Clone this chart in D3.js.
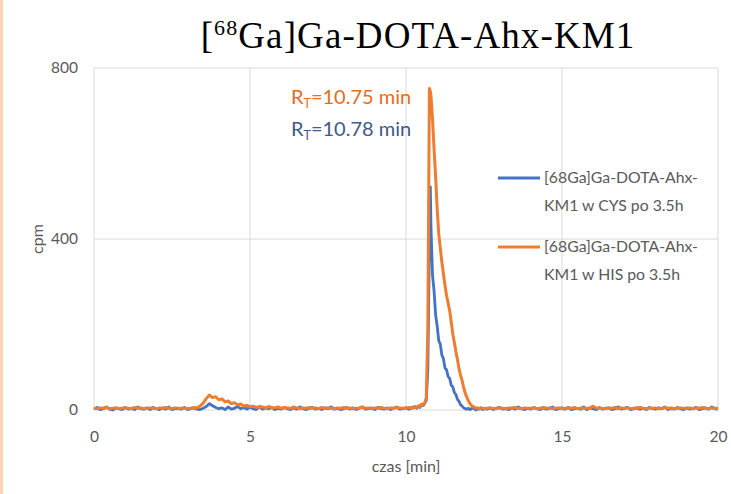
<!DOCTYPE html>
<html>
<head>
<meta charset="utf-8">
<script src="https://cdn.jsdelivr.net/npm/d3@7"></script>
<style>
  html, body { margin: 0; padding: 0; background: #ffffff; }
  svg { display: block; }
</style>
</head>
<body>
<svg id="chart" width="731" height="494"></svg>
<script>
// Retention time axis (minutes), shared by both radio-HPLC traces
const timeMin = [
  0.0,0.1,0.2,0.3,0.4,0.5,0.6,0.7,0.8,0.9,
  1.0,1.1,1.2,1.3,1.4,1.5,1.6,1.7,1.8,1.9,
  2.0,2.1,2.2,2.3,2.4,2.5,2.6,2.7,2.8,2.9,
  3.0,3.1,3.2,3.3,3.4,3.5,3.6,3.7,3.8,3.9,
  4.0,4.1,4.2,4.3,4.4,4.5,4.6,4.7,4.8,4.9,
  5.0,5.1,5.2,5.3,5.4,5.5,5.6,5.7,5.8,5.9,
  6.0,6.1,6.2,6.3,6.4,6.5,6.6,6.7,6.8,6.9,
  7.0,7.1,7.2,7.3,7.4,7.5,7.6,7.7,7.8,7.9,
  8.0,8.1,8.2,8.3,8.4,8.5,8.6,8.7,8.8,8.9,
  9.0,9.1,9.2,9.3,9.4,9.5,9.6,9.7,9.8,9.9,
  10.0,10.1,10.2,10.3,
  10.35,10.4,10.45,10.5,10.55,10.6,10.65,10.7,10.75,10.78,10.8,10.85,10.9,10.95,
  11.0,11.05,11.1,11.15,11.2,11.25,11.3,11.35,11.4,11.45,
  11.5,11.55,11.6,11.65,11.7,11.75,11.8,11.85,11.9,11.95,
  12.0,12.05,12.1,12.15,12.2,12.25,12.3,12.35,12.4,12.45,12.5,
  12.6,12.7,12.8,12.9,
  13.0,13.1,13.2,13.3,13.4,13.5,13.6,13.7,13.8,13.9,
  14.0,14.1,14.2,14.3,14.4,14.5,14.6,14.7,14.8,14.9,
  15.0,15.1,15.2,15.3,15.4,15.5,15.6,15.7,15.8,15.9,
  16.0,16.1,16.2,16.3,16.4,16.5,16.6,16.7,16.8,16.9,
  17.0,17.1,17.2,17.3,17.4,17.5,17.6,17.7,17.8,17.9,
  18.0,18.1,18.2,18.3,18.4,18.5,18.6,18.7,18.8,18.9,
  19.0,19.1,19.2,19.3,19.4,19.5,19.6,19.7,19.8,19.9,
  20.0
];

// Counts per minute, sample incubated in cysteine for 3.5 h
const cpmCys = [
  2,6,1,3,7,2,0,5,3,1,
  6,2,4,1,7,3,2,5,1,6,
  3,1,5,2,7,1,3,4,2,6,
  1,3,5,2,1,4,8,15,10,6,
  3,5,1,7,2,4,8,3,6,2,
  7,3,1,8,2,5,3,6,1,4,
  2,6,3,1,5,2,7,3,1,4,
  6,2,4,1,5,3,7,2,4,1,
  3,6,2,5,1,4,7,2,3,5,
  1,6,3,2,5,1,4,7,2,3,
  5,2,6,8,
  4,9,6,13,10,16,22,95,390,522,430,315,278,222,
  196,162,154,128,120,98,94,78,74,58,
  54,41,36,25,20,12,9,5,3,2,
  4,1,3,6,2,0,4,2,5,1,3,
  2,5,1,4,
  6,2,3,1,5,2,7,3,1,4,
  2,6,3,1,5,2,4,7,1,3,
  5,2,6,1,3,4,2,7,1,5,
  3,1,6,2,4,5,1,3,7,2,
  4,6,1,3,5,2,4,1,6,3,
  2,5,3,7,1,4,2,6,3,1,
  5,2,4,6,1,3,5,2,7,3,
  2
];

// Counts per minute, sample incubated in histidine for 3.5 h
const cpmHis = [
  4,3,5,4,6,3,4,5,3,4,
  5,4,3,6,4,5,3,4,5,4,
  3,5,4,6,4,3,5,4,4,5,
  3,4,6,5,9,16,27,35,29,31,
  24,26,19,21,15,17,12,14,9,11,
  8,9,6,8,7,5,8,6,5,7,
  4,6,5,4,7,5,3,5,4,6,
  4,5,3,6,4,5,4,3,5,4,
  6,4,5,3,4,5,7,4,5,3,
  5,4,6,4,3,5,4,6,5,4,
  5,6,4,7,
  6,10,8,14,11,17,28,190,752,745,735,680,610,545,
  470,412,378,346,318,292,268,250,232,206,
  178,158,136,118,96,81,68,52,39,30,
  21,15,10,8,6,4,5,3,5,4,3,
  4,5,3,4,
  5,4,3,5,4,6,4,3,5,4,
  4,5,3,4,6,4,5,3,4,5,
  3,4,5,4,6,3,5,4,4,5,
  9,4,5,3,4,5,4,6,3,5,
  4,5,3,4,5,6,4,3,5,4,
  5,3,4,6,4,5,3,4,5,4,
  4,5,3,5,4,6,4,3,5,4,
  4
];

const xTicks = [0, 5, 10, 15, 20];
const yTicks = [0, 400, 800];

const seriesNames = [
  ["[68Ga]Ga-DOTA-Ahx-", "KM1 w CYS po 3.5h"],
  ["[68Ga]Ga-DOTA-Ahx-", "KM1 w HIS po 3.5h"]
];
const retentionLabels = ["10.75 min", "10.78 min"];

const blue = "#4472C4";
const orange = "#ED7D31";
const labelGrey = "#595959";
const uiFont = "Lato, 'Open Sans', sans-serif";

const svg = d3.select("#chart");

// thin peach strip along the left page edge
svg.append("rect").attr("x", 0).attr("y", 0).attr("width", 3).attr("height", 494)
  .attr("fill", "#FDD3B8");

const x = d3.scaleLinear().domain([0, 20]).range([94, 718]);
const y = d3.scaleLinear().domain([0, 800]).range([410, 68]);

// gridlines
const grid = svg.append("g");
grid.selectAll("line.v").data(xTicks).join("line")
  .attr("x1", d => x(d)).attr("x2", d => x(d))
  .attr("y1", y(0)).attr("y2", y(800))
  .attr("stroke", "#D9D9D9").attr("stroke-width", 1);
grid.selectAll("line.h").data(yTicks).join("line")
  .attr("x1", x(0)).attr("x2", x(20))
  .attr("y1", d => y(d)).attr("y2", d => y(d))
  .attr("stroke", "#D9D9D9").attr("stroke-width", 1);

// axes (labels only; lines come from the grid)
const xAxis = svg.append("g").attr("transform", `translate(0,${y(0)})`)
  .call(d3.axisBottom(x).tickValues(xTicks).tickSize(0).tickPadding(21));
const yAxis = svg.append("g").attr("transform", `translate(${x(0)},0)`)
  .call(d3.axisLeft(y).tickValues(yTicks).tickSize(0).tickPadding(16));
[xAxis, yAxis].forEach(a => {
  a.select(".domain").remove();
  a.selectAll("text").attr("fill", labelGrey).attr("font-family", uiFont).attr("font-size", 15.5);
});

// traces
const line = d3.line().x((d, i) => x(timeMin[i])).y(d => y(d));
svg.append("path").datum(cpmCys).attr("d", line)
  .attr("fill", "none").attr("stroke", blue).attr("stroke-width", 2.8)
  .attr("stroke-linejoin", "round");
svg.append("path").datum(cpmHis).attr("d", line)
  .attr("fill", "none").attr("stroke", orange).attr("stroke-width", 3)
  .attr("stroke-linejoin", "round");

// title with superscript mass number
const title = svg.append("text").attr("x", 418).attr("y", 48).attr("text-anchor", "middle")
  .attr("font-family", "'Liberation Serif', 'DejaVu Serif', serif").attr("font-size", 37)
  .attr("letter-spacing", 1.1)
  .attr("fill", "#000");
title.append("tspan").text("[");
title.append("tspan").text("68").attr("font-size", 22).attr("dy", -13);
title.append("tspan").text("Ga]Ga-DOTA-Ahx-KM1").attr("dy", 13);

// axis titles
svg.append("text").attr("x", 406).attr("y", 472).attr("text-anchor", "middle")
  .attr("font-family", uiFont).attr("font-size", 16).attr("fill", labelGrey)
  .text("czas [min]");
svg.append("text").attr("transform", `translate(43,${y(400)}) rotate(-90)`)
  .attr("text-anchor", "middle")
  .attr("font-family", uiFont).attr("font-size", 16).attr("fill", labelGrey)
  .text("cpm");

// retention time annotations
const rtColors = ["#E46C1E", "#3F5A8A"];
const rtY = [104, 136];
retentionLabels.forEach((lab, i) => {
  const t = svg.append("text").attr("x", 291).attr("y", rtY[i])
    .attr("font-family", uiFont).attr("font-size", 20).attr("fill", rtColors[i]);
  t.append("tspan").text("R");
  t.append("tspan").text("T").attr("font-size", 12.5).attr("dy", 4);
  t.append("tspan").text("=" + lab).attr("dy", -4);
});

// legend
const legColors = [blue, orange];
const legY = [178, 247];
seriesNames.forEach((lines, i) => {
  svg.append("line").attr("x1", 498).attr("x2", 540)
    .attr("y1", legY[i]).attr("y2", legY[i])
    .attr("stroke", legColors[i]).attr("stroke-width", 3);
  lines.forEach((s, j) => {
    svg.append("text").attr("x", 544).attr("y", legY[i] + 5 + j * 28)
      .attr("font-family", uiFont).attr("font-size", 15.8).attr("fill", labelGrey)
      .text(s);
  });
});
</script>
</body>
</html>
